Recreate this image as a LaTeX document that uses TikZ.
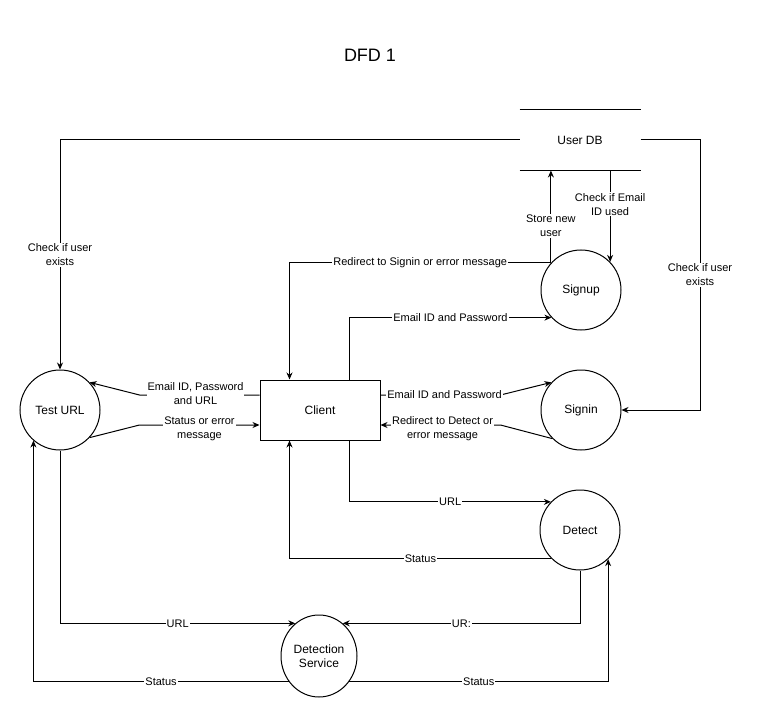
\documentclass[tikz,border=0pt]{standalone}
\usepackage{fontspec}
\setmainfont{Liberation Sans}
\usetikzlibrary{arrows.meta,positioning,calc,shapes.geometric}

\begin{document}
\begin{tikzpicture}[x=1pt,y=-1pt,line width=1pt,
		>={Stealth[length=7pt,width=6pt]},
		proc/.style={draw,circle,minimum size=80pt,inner sep=0pt,align=center,font=\fontsize{12}{14}\selectfont},
		box/.style={draw,minimum width=120pt,minimum height=60pt,font=\fontsize{12}{14}\selectfont},
		store/.style={minimum width=120pt,minimum height=60pt,font=\fontsize{12}{14}\selectfont},
		lbl/.style={fill=white,inner sep=1pt,align=center,font=\fontsize{11}{14}\selectfont}]
		
		\useasboundingbox (0,0) rectangle (757,711);
		
		\node[font=\fontsize{18}{22}\selectfont] (title)
		at (370,55) {DFD 1};
		
		% processes and store
		\node[store] (userdb)
		at (580,140) {User DB};
		
		\draw (userdb.north west) -- (userdb.north east);
		\draw (userdb.south west) -- (userdb.south east);
		
		\node[proc] (testurl)
		at (60,410) {Test URL};
		
		\node[box] (client)
		at (320,410) {Client};
		
		\node[proc] (signup)
		at (581,290) {Signup};
		
		\node[proc] (signin)
		at (581,410) {Signin};
		
		\node[proc] (detect)
		at (580,530) {Detect};
		
		\node[draw,ellipse,minimum width=76pt,minimum height=82pt,inner sep=0pt,align=center,font=\fontsize{12}{14}\selectfont] (detsvc)
		at (319,656) {Detection\\Service};
		
		\coordinate (dbturn) at (700,140);
		
		% flows
		\draw[->]
		(userdb.west) -| (testurl.north)
		node[lbl,pos=0.75] {Check if user\\exists};
		
		\draw[->]
		(userdb.east) -- (dbturn) |- (signin.east)
		node[lbl,pos=0.25] {Check if user\\exists};
		
		\draw[->]
		(signup.138) -- (signup.138 |- userdb.south)
		node[lbl,pos=0.4] {Store new\\user};
		
		\draw[->]
		(userdb.south -| signup.44) -- (signup.44)
		node[lbl,pos=0.37] {Check if Email\\ID used};
		
		\draw[->]
		(signup.138) -| ([xshift=30pt]client.north west)
		node[lbl,pos=0.25] {Redirect to Signin or error message};
		
		\draw[->]
		([xshift=90pt]client.north west) |- (signup.-137)
		node[lbl,pos=0.75] {Email ID and Password};
		
		\draw[->]
		([yshift=15pt]client.east) -- ++(120,0)
		node[lbl,midway,xshift=4pt] {Email ID and Password}
		-- (signin.137);
		
		\draw[->]
		(signin.-135) -- ($([yshift=-15pt]client.east)+(120,0)$)
		-- ([yshift=-15pt]client.east)
		node[lbl,midway,yshift=-4pt,xshift=2pt] {Redirect to Detect or\\error message};
		
		\draw[->]
		([yshift=15pt]client.west) -- ++(-120,0)
		node[lbl,midway,yshift=1pt,xshift=-4pt] {Email ID, Password\\and URL}
		-- (testurl.43);
		
		\draw[->]
		(testurl.-43) -- ($([yshift=-15pt]client.west)+(-120,0)$)
		-- ([yshift=-15pt]client.west)
		node[lbl,midway,yshift=-4pt] {Status or error\\message};
		
		\draw[->]
		([xshift=90pt]client.south west) |- (detect.136)
		node[lbl,pos=0.75] {URL};
		
		\draw[->]
		(detect.-135) -| ([xshift=30pt]client.south west)
		node[lbl,pos=0.25] {Status};
		
		\draw[->]
		(testurl.south) |- (detsvc.126)
		node[lbl,pos=0.75] {URL};
		
		\draw[->]
		(detect.south) |- (detsvc.54)
		node[lbl,pos=0.75] {UR:};
		
		\draw[->]
		(detsvc.220) -| (testurl.229)
		node[lbl,pos=0.25] {Status};
		
		\draw[->]
		(detsvc.-40) -| (detect.-46)
		node[lbl,pos=0.25] {Status};
		
	\end{tikzpicture}
\end{document}
